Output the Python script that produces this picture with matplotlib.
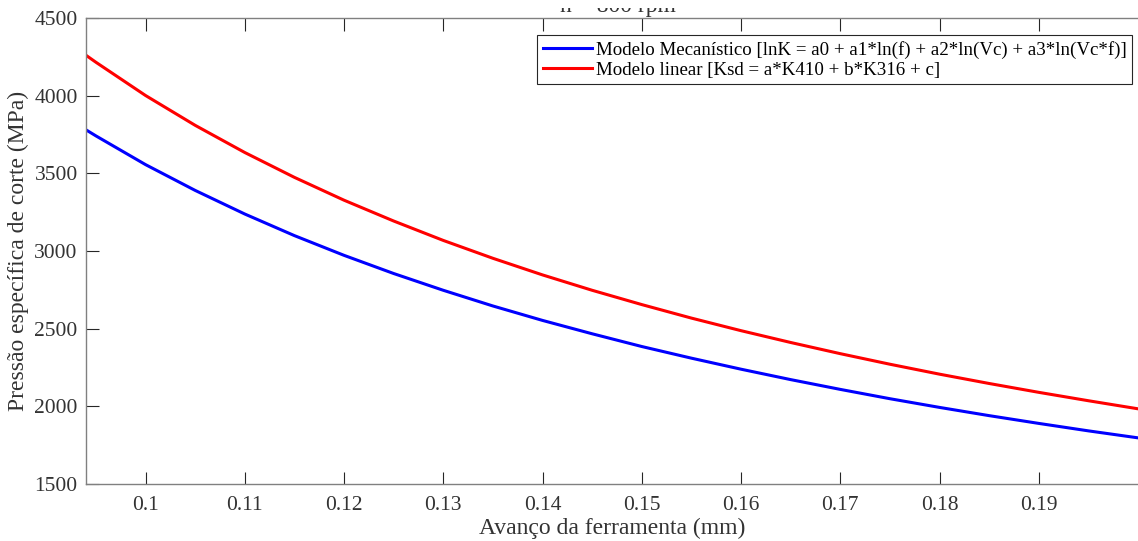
import numpy as np
import matplotlib.pyplot as plt
from matplotlib.patches import Rectangle

plt.rcParams['font.family'] = ['Liberation Serif', 'DejaVu Serif']

# avanço (mm)
f = [0.094, 0.095, 0.100, 0.105, 0.110, 0.115, 0.120, 0.125, 0.130, 0.135, 0.140,
     0.145, 0.150, 0.155, 0.160, 0.165, 0.170, 0.175, 0.180, 0.185, 0.190, 0.195, 0.200]

# modelo mecanístico (MPa)
k_mec = [3780, 3741, 3556, 3390, 3238, 3099, 2972, 2855, 2747, 2646, 2553,
         2467, 2385, 2310, 2239, 2172, 2109, 2049, 1993, 1940, 1890, 1842, 1797]

# modelo linear (MPa)
k_lin = [4260, 4215, 4001, 3809, 3634, 3474, 3327, 3193, 3068, 2953, 2846,
         2747, 2655, 2568, 2487, 2411, 2339, 2271, 2207, 2147, 2090, 2036, 1984]

lbl_mec = 'Modelo Mecanístico [lnK = a0 + a1*ln(f) + a2*ln(Vc) + a3*ln(Vc*f)]'
lbl_lin = 'Modelo linear [Ksd = a*K410 + b*K316 + c]'

fig = plt.figure(figsize=(11.38, 5.41), dpi=100)
ax = fig.add_axes([0.0756, 0.1054, 0.9244, 0.8613])

ax.plot(f, k_mec, color='#0000ff', lw=2.2, label=lbl_mec)
ax.plot(f, k_lin, color='#ff0000', lw=2.2, label=lbl_lin)

ax.set_xlim(0.094, 0.2)
ax.set_ylim(1500, 4500)
ax.set_xticks([0.1, 0.11, 0.12, 0.13, 0.14, 0.15, 0.16, 0.17, 0.18, 0.19])
ax.set_xticklabels(['0.1', '0.11', '0.12', '0.13', '0.14', '0.15', '0.16', '0.17', '0.18', '0.19'])
ax.set_yticks([1500, 2000, 2500, 3000, 3500, 4000, 4500])

ax.tick_params(direction='in', top=True, right=False, length=9, width=0.8,
               labelsize=15.5, color='#262626', labelcolor='#333333', pad=6)
ax.tick_params(axis='x', pad=9)
for s in ['left', 'bottom', 'top']:
    ax.spines[s].set_color('#808080')
    ax.spines[s].set_linewidth(1.0)
ax.spines['right'].set_visible(False)

ax.set_xlabel('Avanço da ferramenta (mm)', fontsize=17, color='#333333', labelpad=1.5)
ax.set_ylabel('Pressão específica de corte (MPa)', fontsize=17, color='#333333', labelpad=4)

# title is cut off at the top in the original picture
fig.text(0.543, 1 - 12 / 541, 'n = 800 rpm', ha='center', va='baseline', fontsize=17, color='#333333')
fig.patches.append(Rectangle((0, 1 - 8 / 541), 1, 8 / 541, transform=fig.transFigure,
                             facecolor='white', edgecolor='none', zorder=10))

leg = ax.legend(loc='upper right', bbox_to_anchor=(1 - 6 / 1052, 1 - 17 / 466),
                fontsize=13.6, fancybox=False, framealpha=1,
                edgecolor='#262626', handlelength=2.6, handletextpad=0.2,
                borderpad=0.3, labelspacing=0.15, borderaxespad=0)
leg.get_frame().set_linewidth(0.8)

fig.savefig('out.png', dpi=100)
